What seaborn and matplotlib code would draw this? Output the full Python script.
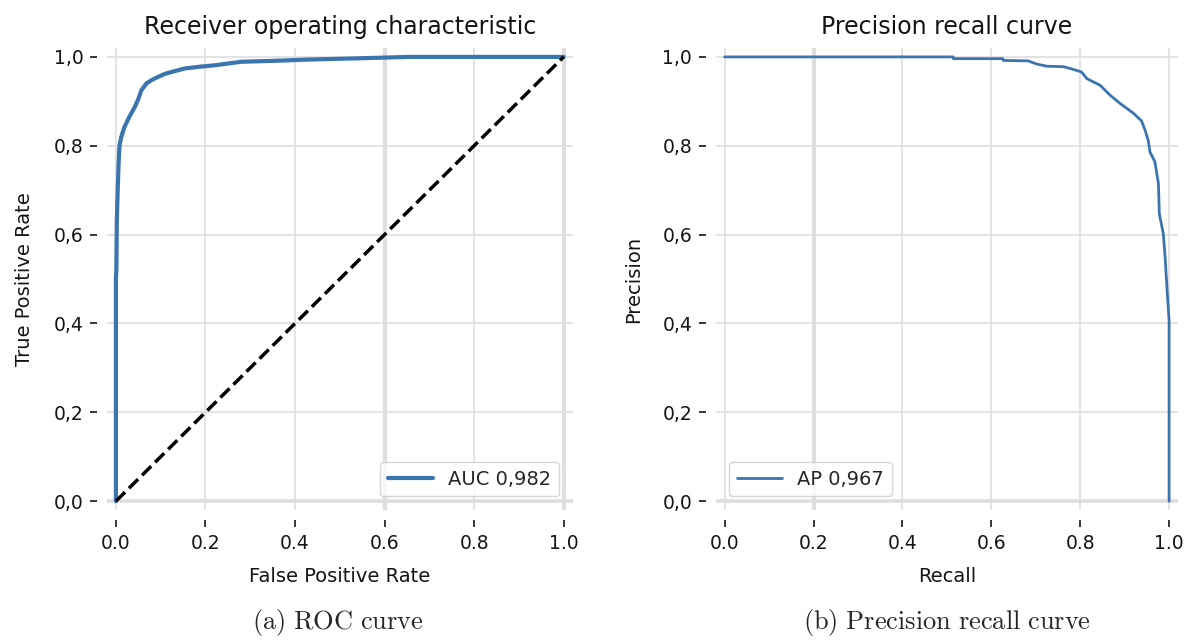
import numpy as np
import pandas as pd
import matplotlib
matplotlib.use("Agg")
import matplotlib.pyplot as plt
import seaborn as sns
from matplotlib.ticker import FuncFormatter


# ROC curve points
fpr = [0.0, 0.0, 0.001, 0.002, 0.004, 0.006, 0.008, 0.012, 0.019, 0.03, 0.042, 0.05,
       0.057, 0.068, 0.08, 0.094, 0.11, 0.124, 0.154, 0.188, 0.22, 0.28, 0.35, 0.43,
       0.55, 0.655, 1.0]
tpr = [0.0, 0.5, 0.52, 0.63, 0.70, 0.76, 0.80, 0.82, 0.842, 0.865, 0.887, 0.905,
       0.925, 0.94, 0.948, 0.955, 0.962, 0.966, 0.974, 0.978, 0.981, 0.989, 0.991, 0.994,
       0.997, 1.0, 1.0]
auc_label = "AUC 0,982"

# Precision recall curve points
recall = [0.0, 0.514, 0.515, 0.626, 0.627, 0.683, 0.702, 0.725, 0.762, 0.784, 0.803,
          0.815, 0.845, 0.867, 0.890, 0.920, 0.938, 0.946, 0.953, 0.957, 0.968, 0.976,
          0.978, 0.987, 0.991, 0.996, 1.0, 1.0]
precision = [1.0, 1.0, 0.996, 0.996, 0.992, 0.991, 0.984, 0.979, 0.978, 0.972, 0.966,
             0.951, 0.936, 0.914, 0.895, 0.873, 0.856, 0.835, 0.812, 0.786, 0.764, 0.715,
             0.647, 0.602, 0.550, 0.467, 0.407, 0.0]
ap_label = "AP 0,967"

ticks = [0.0, 0.2, 0.4, 0.6, 0.8, 1.0]
captions = ["(a)\\ ROC\\ curve", "(b)\\ Precision\\ recall\\ curve"]

BLUE = "#3b75af"
GRID = "#dedede"


def style_axes(ax):
    ax.set_xlim(-0.02, 1.02)
    ax.set_ylim(-0.02, 1.02)
    ax.set_xticks(ticks)
    ax.set_yticks(ticks)
    # x labels keep the dot, y labels use a decimal comma
    ax.xaxis.set_major_formatter(FuncFormatter(lambda v, _: f"{v:.1f}"))
    ax.yaxis.set_major_formatter(FuncFormatter(lambda v, _: f"{v:.1f}".replace(".", ",")))
    for side in ["left", "bottom"]:
        ax.spines[side].set_position(("outward", 7))
    for side in ax.spines:
        ax.spines[side].set_visible(False)
    ax.tick_params(axis="both", length=5, width=1.1, color="black", pad=5,
                   labelsize=13.5, labelcolor="#141414")
    ax.grid(True, color=GRID, linewidth=1.2)
    ax.get_ygridlines()[0].set_linewidth(2.6)


def main():
    sns.set_theme(style="whitegrid",
                  rc={"xtick.bottom": True, "ytick.left": True,
                      "mathtext.fontset": "cm"})
    plt.rcParams["font.family"] = ["DejaVu Sans"]

    fig, (ax1, ax2) = plt.subplots(1, 2, figsize=(11.87, 6.4), dpi=100)
    fig.subplots_adjust(left=0.0901, right=0.9924, bottom=0.203, top=0.925, wspace=0.3)
    ax2.set_position([0.603, 0.203, 0.9924 - 0.603, 0.925 - 0.203])

    roc = pd.DataFrame({"fpr": fpr, "tpr": tpr})
    pr = pd.DataFrame({"recall": recall, "precision": precision})

    # ROC curve
    sns.lineplot(data=roc, x="fpr", y="tpr", sort=False, estimator=None,
                 color=BLUE, linewidth=3, label=auc_label, ax=ax1)
    ax1.plot([0, 1], [0, 1], color="black", linestyle="--", linewidth=2.5)
    style_axes(ax1)
    ax1.get_xgridlines()[3].set_linewidth(3)
    ax1.get_xgridlines()[5].set_linewidth(3)
    ax1.set_title("Receiver operating characteristic", fontsize=17, pad=10, color="#141414")
    ax1.set_xlabel("False Positive Rate", fontsize=14, labelpad=10, color="#141414")
    ax1.set_ylabel("True Positive Rate", fontsize=14, labelpad=14, color="#141414")
    ax1.legend(loc="lower right", fontsize=14, handlelength=2.3, borderaxespad=0.7)

    # Precision recall curve
    sns.lineplot(data=pr, x="recall", y="precision", sort=False, estimator=None,
                 color=BLUE, linewidth=2, label=ap_label, ax=ax2)
    style_axes(ax2)
    ax2.get_xgridlines()[1].set_linewidth(3)
    ax2.set_title("Precision recall curve", fontsize=17, pad=10, color="#141414")
    ax2.set_xlabel("Recall", fontsize=14, labelpad=10, color="#141414")
    ax2.set_ylabel("Precision", fontsize=14, labelpad=14, color="#141414")
    ax2.legend(loc="lower left", fontsize=14, handlelength=2.3, borderaxespad=0.7)

    # Sub-figure captions in a LaTeX-like serif
    fig.text(0.285, 0.028, "$\\mathrm{" + captions[0] + "}$", ha="center", va="center", fontsize=19)
    fig.text(0.798, 0.028, "$\\mathrm{" + captions[1] + "}$", ha="center", va="center", fontsize=19)

    fig.savefig("out.png", dpi=100)


if __name__ == "__main__":
    main()
